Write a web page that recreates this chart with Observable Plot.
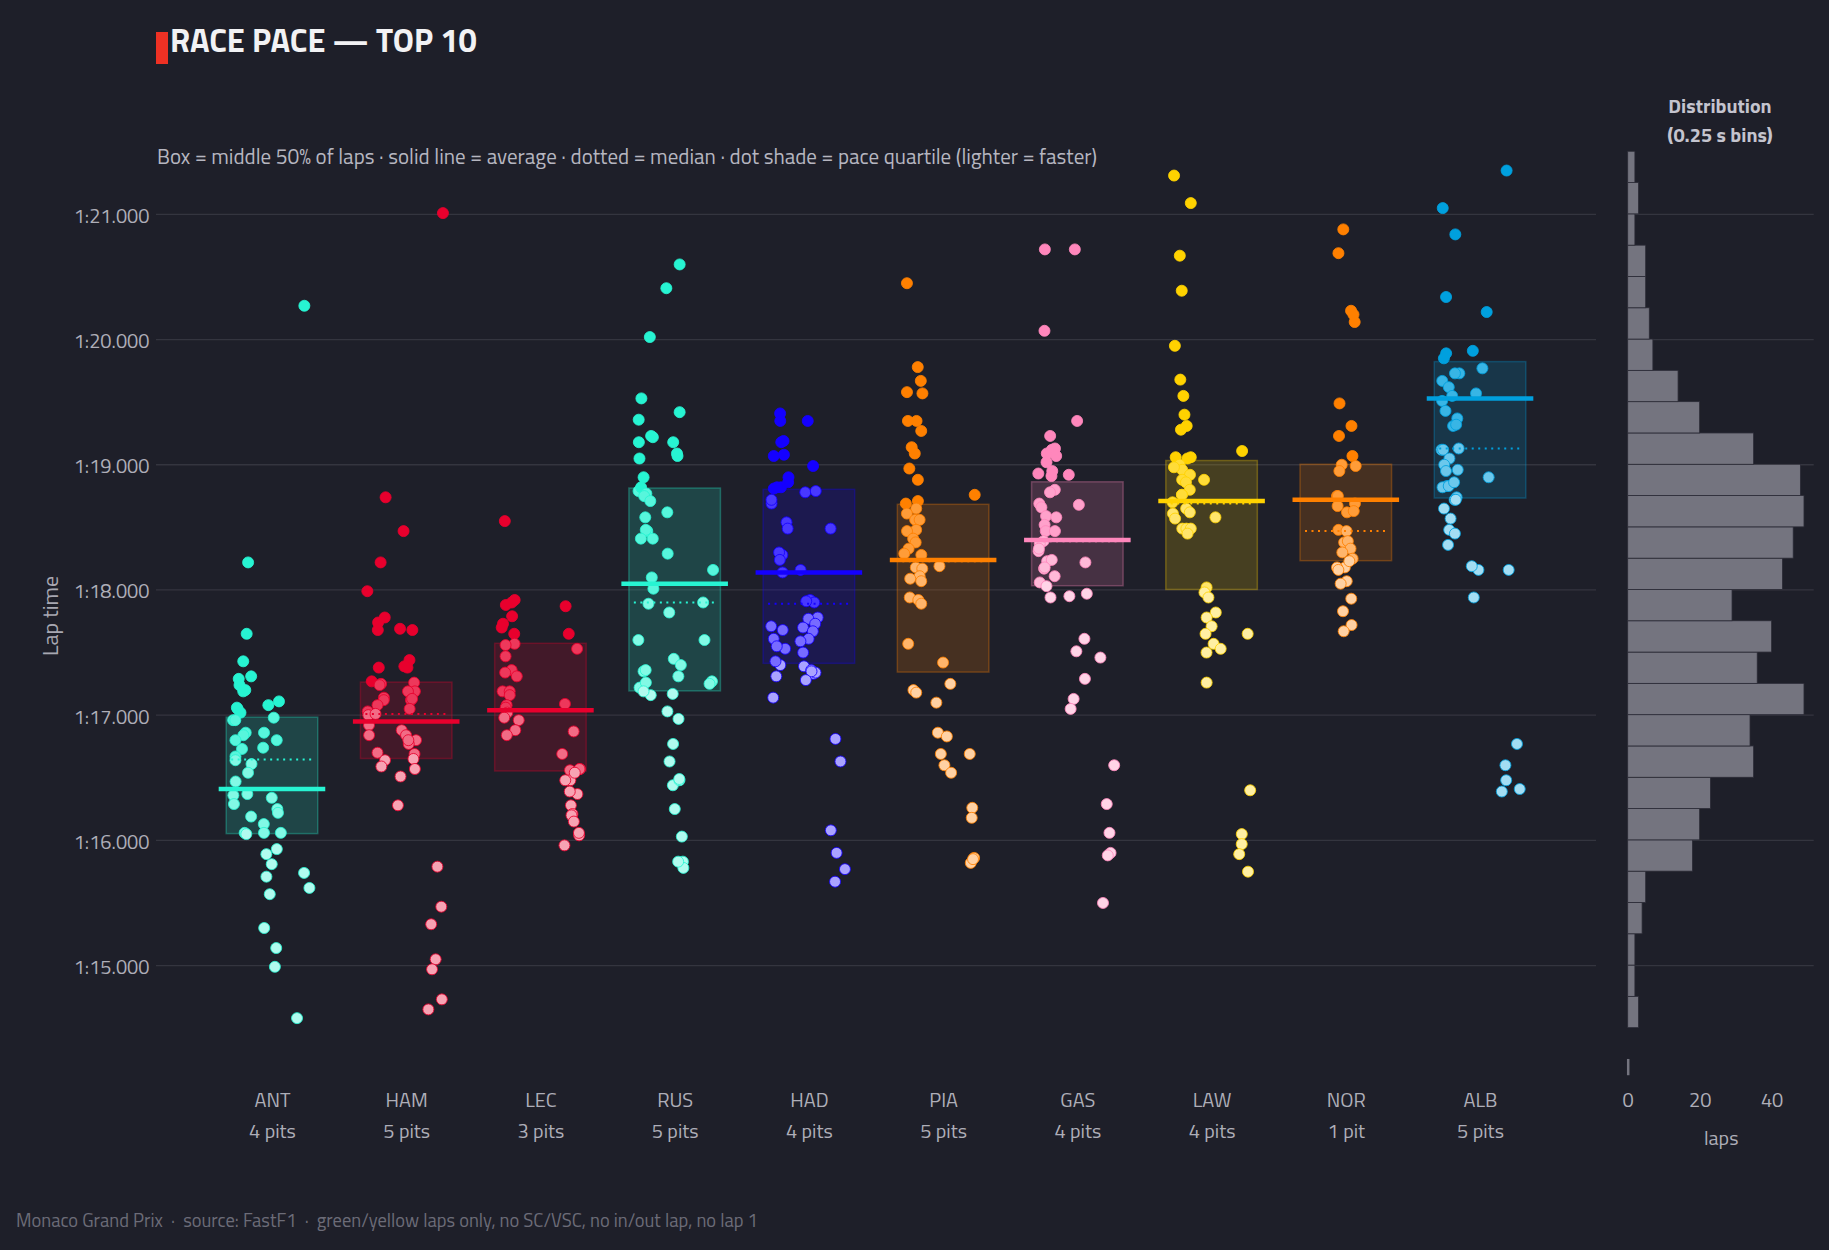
<!DOCTYPE html>
<html>
<head>
<meta charset="utf-8">
<script src="https://cdn.jsdelivr.net/npm/d3@7"></script>
<script src="https://cdn.jsdelivr.net/npm/@observablehq/plot@0.6"></script>
<style>
  html, body { margin: 0; padding: 0; background: #1e1f29; }
  #page { position: relative; width: 1829px; height: 1250px; background: #1e1f29; overflow: hidden;
          font-family: "Titillium Web", Roboto, "Noto Sans", sans-serif; }
  .abs { position: absolute; white-space: nowrap; line-height: 1; }
  #accent { position: absolute; left: 156px; top: 32px; width: 12px; height: 32px; background: #ee3124; }
  #title { left: 170px; top: 24px; font-size: 32.5px; font-weight: 700; color: #f2f2f4; }
  #subtitle { left: 157px; top: 146px; font-size: 21px; color: #b6b6c0; }
  #histTitle { left: 1620px; width: 200px; top: 91px; text-align: center; font-size: 20px; font-weight: 700;
               line-height: 29px; color: #c4c4ce; }
  #ylabel { left: 50px; top: 616px; font-size: 22px; color: #a8a8b2; transform: translate(-50%, -50%) rotate(-90deg); }
  #footer { left: 16px; top: 1211px; font-size: 18.5px; color: #6c6c78; }
  #main, #hist { position: absolute; top: 0; }
  #main { left: 0; }
  #hist { left: 1600px; }
</style>
</head>
<body>
<div id="page">
  <div id="accent"></div>
  <div id="title" class="abs">RACE PACE — TOP 10</div>
  <div id="subtitle" class="abs">Box = middle 50% of laps · solid line = average · dotted = median · dot shade = pace quartile (lighter = faster)</div>
  <div id="histTitle" class="abs">Distribution<br>(0.25 s bins)</div>
  <div id="ylabel" class="abs">Lap time</div>
  <div id="main"></div>
  <div id="hist"></div>
  <div id="footer" class="abs">Monaco Grand Prix &nbsp;·&nbsp; source: FastF1 &nbsp;·&nbsp; green/yellow laps only, no SC/VSC, no in/out lap, no lap 1</div>
</div>
<script>
// ---- drivers (finishing order, top 10) ----
const drivers = ["ANT", "HAM", "LEC", "RUS", "HAD", "PIA", "GAS", "LAW", "NOR", "ALB"];
const pitStops = [4, 5, 3, 5, 4, 5, 4, 4, 1, 5];
const teamColors = ["#27F4D2", "#E8002D", "#E8002D", "#27F4D2", "#1400FF",
                    "#FF8000", "#FF87BC", "#FFD200", "#FF8000", "#00A0DE"];

// ---- per-driver summary (seconds) ----
const lapQ1     = [76.05, 76.65, 76.55, 77.19, 77.41, 77.34, 78.03, 78.00, 78.23, 78.73];
const lapMedian = [76.645, 77.01, 77.05, 77.90, 77.89, 78.23, 78.39, 78.69, 78.47, 79.13];
const lapQ3     = [76.98, 77.26, 77.57, 78.81, 78.80, 78.68, 78.86, 79.03, 79.00, 79.82];
const lapMean   = [76.41, 76.95, 77.04, 78.05, 78.14, 78.24, 78.40, 78.71, 78.72, 79.53];

// ---- clean laps: [lap time in seconds, stint group 0/1/2] ----
const lapsANT = [[80.27,2],[78.22,0],[77.65,0],[77.43,0],[77.29,0],[77.24,0],[77.31,0],[77.20,0],[77.19,0],[77.06,0],[77.05,0],[77.02,0],[77.11,1],[77.08,1],[76.96,0],[76.96,0],[76.98,1],[76.86,0],[76.84,0],[76.86,1],[76.80,0],[76.80,1],[76.74,1],[76.73,0],[76.67,0],[76.64,0],[76.61,0],[76.54,0],[76.47,0],[76.36,0],[76.37,0],[76.34,1],[76.29,0],[76.25,1],[76.22,1],[76.19,0],[76.13,1],[76.06,0],[76.05,0],[76.06,1],[76.06,1],[75.93,1],[75.89,1],[75.81,1],[75.71,1],[75.57,1],[75.74,2],[75.62,2],[75.30,1],[75.14,1],[74.99,1],[74.58,2]];
const lapsHAM = [[81.01,2],[78.74,0],[78.47,1],[78.22,0],[77.99,0],[77.74,0],[77.78,0],[77.68,0],[77.69,1],[77.68,1],[77.38,0],[77.44,1],[77.38,1],[77.39,1],[77.26,1],[77.25,0],[77.27,0],[77.24,0],[77.19,1],[77.19,1],[77.14,0],[77.12,0],[77.12,1],[77.13,1],[77.08,0],[77.05,1],[77.03,0],[77.00,0],[77.01,0],[76.92,0],[76.84,0],[76.88,1],[76.84,1],[76.80,1],[76.77,1],[76.80,1],[76.70,0],[76.69,1],[76.64,0],[76.59,0],[76.65,1],[76.57,1],[76.51,1],[76.28,1],[75.79,2],[75.47,2],[75.33,2],[75.05,2],[74.97,2],[74.73,2],[74.65,2]];
const lapsLEC = [[78.55,0],[77.90,0],[77.92,0],[77.88,0],[77.87,2],[77.79,0],[77.73,0],[77.70,0],[77.65,0],[77.65,2],[77.57,0],[77.56,0],[77.53,2],[77.47,0],[77.36,0],[77.34,0],[77.31,0],[77.19,0],[77.19,0],[77.16,0],[77.08,0],[77.06,0],[77.09,2],[77.02,0],[76.98,0],[76.96,0],[76.88,0],[76.84,0],[76.87,2],[76.69,2],[76.57,2],[76.56,2],[76.57,2],[76.48,2],[76.48,2],[76.54,2],[76.37,2],[76.39,2],[76.28,2],[76.21,2],[76.20,2],[76.15,2],[76.04,2],[76.06,2],[75.96,2]];
const lapsRUS = [[80.60,1],[80.41,1],[80.02,0],[79.53,0],[79.36,0],[79.42,1],[79.23,0],[79.18,0],[79.22,0],[79.18,1],[79.05,0],[79.07,1],[79.09,1],[78.90,0],[78.79,0],[78.82,0],[78.77,0],[78.75,0],[78.71,0],[78.62,1],[78.58,0],[78.47,0],[78.48,0],[78.41,0],[78.41,0],[78.29,1],[78.16,2],[78.10,0],[78.01,0],[77.89,0],[77.90,2],[77.82,1],[77.60,0],[77.60,2],[77.45,1],[77.35,0],[77.36,0],[77.40,1],[77.31,1],[77.22,0],[77.26,0],[77.16,0],[77.19,0],[77.17,1],[77.27,2],[77.25,2],[77.03,1],[76.97,1],[76.77,1],[76.63,1],[76.44,1],[76.48,1],[76.49,1],[76.25,1],[76.03,1],[75.83,1],[75.78,1],[75.83,1]];
const lapsHAD = [[79.41,0],[79.35,0],[79.35,1],[79.19,0],[79.18,0],[79.07,0],[79.08,0],[78.99,1],[78.90,0],[78.86,0],[78.81,0],[78.82,0],[78.82,0],[78.78,1],[78.79,1],[78.69,0],[78.72,0],[78.54,0],[78.49,0],[78.49,2],[78.28,0],[78.30,0],[78.24,0],[78.14,0],[78.16,1],[77.92,1],[77.90,1],[77.91,1],[77.78,1],[77.77,1],[77.70,1],[77.73,1],[77.67,1],[77.71,0],[77.68,0],[77.61,0],[77.61,1],[77.59,1],[77.53,0],[77.55,0],[77.50,1],[77.40,0],[77.43,0],[77.39,1],[77.36,1],[77.33,1],[77.34,1],[77.35,1],[77.31,0],[77.28,1],[77.14,0],[76.81,2],[76.63,2],[76.08,2],[75.90,2],[75.77,2],[75.67,2]];
const lapsPIA = [[80.45,0],[79.78,0],[79.67,0],[79.57,0],[79.58,0],[79.35,0],[79.35,0],[79.27,0],[79.09,0],[79.14,0],[78.97,0],[78.88,0],[78.76,2],[78.71,0],[78.69,0],[78.65,0],[78.61,0],[78.56,0],[78.56,0],[78.48,0],[78.47,0],[78.41,0],[78.38,0],[78.33,0],[78.29,0],[78.28,0],[78.18,0],[78.17,0],[78.19,1],[78.11,0],[78.07,0],[78.09,0],[77.94,0],[77.92,0],[77.89,0],[77.57,0],[77.42,1],[77.25,1],[77.20,0],[77.18,0],[77.10,1],[76.86,1],[76.83,1],[76.69,1],[76.60,1],[76.69,2],[76.54,1],[76.26,2],[76.18,2],[75.82,2],[75.86,2],[75.85,2]];
const lapsGAS = [[80.72,0],[80.72,1],[80.07,0],[79.35,1],[79.23,0],[79.12,0],[79.09,0],[79.13,0],[79.07,0],[79.02,0],[78.91,0],[78.95,0],[78.93,0],[78.92,1],[78.80,0],[78.78,0],[78.69,0],[78.66,0],[78.68,1],[78.59,0],[78.58,0],[78.52,0],[78.47,0],[78.47,0],[78.39,0],[78.37,0],[78.31,0],[78.33,0],[78.23,0],[78.24,0],[78.22,1],[78.17,0],[78.18,0],[78.11,0],[78.06,0],[78.03,0],[77.94,0],[77.97,1],[77.95,1],[77.61,1],[77.51,1],[77.46,2],[77.29,1],[77.13,1],[77.05,1],[76.60,2],[76.29,2],[76.06,2],[75.90,2],[75.88,2],[75.50,2]];
const lapsLAW = [[81.31,0],[81.09,0],[80.67,0],[80.39,0],[79.95,0],[79.68,0],[79.55,0],[79.40,0],[79.31,0],[79.28,0],[79.11,2],[79.05,0],[79.06,0],[79.06,0],[79.00,0],[78.96,0],[78.98,0],[78.92,0],[78.88,0],[78.88,1],[78.86,0],[78.80,0],[78.76,0],[78.76,0],[78.70,0],[78.65,0],[78.62,0],[78.61,0],[78.58,1],[78.57,0],[78.49,0],[78.49,0],[78.49,0],[78.45,0],[78.02,1],[77.98,1],[77.94,1],[77.82,1],[77.78,1],[77.71,1],[77.65,1],[77.57,1],[77.53,1],[77.50,1],[77.65,2],[77.26,1],[76.40,2],[76.05,2],[75.97,2],[75.89,2],[75.75,2]];
const lapsNOR = [[80.88,1],[80.69,1],[80.23,1],[80.20,1],[80.14,1],[79.49,1],[79.31,1],[79.23,1],[79.07,1],[79.00,1],[78.95,1],[78.99,1],[78.75,1],[78.75,1],[78.69,1],[78.62,1],[78.63,1],[78.67,1],[78.48,1],[78.47,1],[78.38,1],[78.39,1],[78.33,1],[78.30,1],[78.25,1],[78.18,1],[78.18,1],[78.23,1],[78.16,1],[78.07,1],[78.05,1],[77.93,1],[77.83,1],[77.72,1],[77.67,1]];
const lapsALB = [[81.35,2],[81.05,0],[80.84,0],[80.34,0],[80.22,1],[79.89,0],[79.85,0],[79.91,1],[79.77,1],[79.73,0],[79.73,0],[79.67,0],[79.62,0],[79.55,0],[79.51,0],[79.57,1],[79.43,0],[79.37,0],[79.31,0],[79.32,0],[79.12,0],[79.13,0],[79.12,0],[79.05,0],[79.00,0],[78.96,0],[78.95,0],[78.83,0],[78.82,0],[78.83,0],[78.86,0],[78.74,0],[78.72,0],[78.72,0],[78.90,1],[78.65,0],[78.57,0],[78.48,0],[78.45,0],[78.36,0],[78.16,1],[78.19,1],[78.16,2],[77.94,1],[76.77,2],[76.60,2],[76.48,2],[76.41,2],[76.39,2]];
const lapsByDriver = [lapsANT, lapsHAM, lapsLEC, lapsRUS, lapsHAD, lapsPIA, lapsGAS, lapsLAW, lapsNOR, lapsALB];

// ---- distribution of all laps, 0.25 s bins starting at 1:14.50 ----
const histStart = 74.5;
const histBin = 0.25;
const histCounts = [3, 2, 2, 4, 5, 18, 20, 23, 35, 34, 49, 36, 40, 29, 43, 46, 49, 48, 35, 20, 14, 7, 6, 5, 5, 2, 3, 2];

// ---- axis ticks ----
const yTicks = [75, 76, 77, 78, 79, 80, 81];
const histTicks = [0, 20, 40];

// ---------------------------------------------------------------------------
const GRID = "#34353f";
const TEXT = "#aeaeb8";
const FONT = '"Titillium Web", Roboto, "Noto Sans", sans-serif';
const Y_DOMAIN = [74.05, 81.55];
const H = 1160, M_TOP = 145, M_BOTTOM = 76;

const lapFormat = s => {
  const m = Math.floor(s / 60);
  return `${m}:${(s - m * 60).toFixed(3).padStart(6, "0")}`;
};

// stable pseudo-jitter within a stint group, in [-1, 1]
const jitter = (i, j) => {
  const s = Math.sin((i + 1) * 374.761 + (j + 1) * 91.317) * 43758.5453;
  return (s - Math.floor(s) - 0.5) * 2;
};

const shadeMix = [0, 0.22, 0.42, 0.64]; // slowest quartile → fastest quartile

const stats = drivers.map((code, i) => ({
  i, code, pits: pitStops[i], color: teamColors[i],
  q1: lapQ1[i], q3: lapQ3[i], median: lapMedian[i], mean: lapMean[i]
}));

const dots = [];
lapsByDriver.forEach((laps, i) => {
  const s = stats[i];
  laps.forEach(([t, group], j) => {
    const q = t <= s.q1 ? 3 : t <= s.median ? 2 : t <= s.q3 ? 1 : 0;
    dots.push({
      x: i + (group - 1) * 0.225 + jitter(i, j) * 0.07,
      t,
      color: s.color,
      fill: d3.interpolateRgb(s.color, "#ffffff")(shadeMix[q])
    });
  });
});

const main = Plot.plot({
  width: 1610, height: H,
  marginLeft: 156, marginRight: 14, marginTop: M_TOP, marginBottom: M_BOTTOM,
  style: { background: "transparent", color: TEXT, fontFamily: FONT, fontSize: "20px", overflow: "visible" },
  x: { type: "linear", domain: [-0.864, 9.864], axis: null },
  y: { domain: Y_DOMAIN, axis: null },
  color: { type: "identity" },
  marks: [
    Plot.ruleY(yTicks, { stroke: GRID, strokeWidth: 1.3 }),
    Plot.axisY({ ticks: yTicks, tickFormat: lapFormat, tickSize: 0, tickPadding: 7, label: null, fontSize: 20, dy: 2, fill: TEXT }),
    Plot.rect(stats, {
      x1: d => d.i - 0.341, x2: d => d.i + 0.341, y1: "q1", y2: "q3",
      fill: "color", fillOpacity: 0.18, stroke: "color", strokeOpacity: 0.3, strokeWidth: 1.5
    }),
    Plot.dot(dots, { x: "x", y: "t", r: 5.5, fill: "fill", stroke: "color", strokeWidth: 1, strokeOpacity: 0.85 }),
    Plot.ruleY(stats, {
      x1: d => d.i - 0.304, x2: d => d.i + 0.304, y: "median",
      stroke: "color", strokeWidth: 2, strokeDasharray: "2,4.5"
    }),
    Plot.ruleY(stats, {
      x1: d => d.i - 0.397, x2: d => d.i + 0.397, y: "mean",
      stroke: "color", strokeWidth: 4.5
    }),
    Plot.text(stats, { x: "i", frameAnchor: "bottom", dy: 22, text: "code", fill: TEXT, fontSize: 20 }),
    Plot.text(stats, {
      x: "i", frameAnchor: "bottom", dy: 53, fill: TEXT, fontSize: 20,
      text: d => `${d.pits} pit${d.pits === 1 ? "" : "s"}`
    })
  ]
});
document.getElementById("main").appendChild(main);

const bins = histCounts.map((n, k) => ({
  y1: histStart + k * histBin, y2: histStart + (k + 1) * histBin, n
}));

const hist = Plot.plot({
  width: 229, height: H,
  marginLeft: 27.7, marginRight: 15.3, marginTop: M_TOP, marginBottom: M_BOTTOM,
  style: { background: "transparent", color: TEXT, fontFamily: FONT, fontSize: "20px", overflow: "visible" },
  x: { domain: [0, 51.7], axis: null },
  y: { domain: Y_DOMAIN, axis: null },
  marks: [
    Plot.ruleY(yTicks, { stroke: GRID, strokeWidth: 1.3 }),
    Plot.rectX(bins, { x1: 0, x2: "n", y1: "y1", y2: "y2", fill: "#74747f", stroke: "#2b2b36", strokeWidth: 0.8 }),
    Plot.ruleX([0], { y1: 74.12, y2: 74.25, stroke: "#74747f", strokeWidth: 2.5 }),
    Plot.text(histTicks, { x: d => d, frameAnchor: "bottom", dy: 22, text: d => String(d), fill: TEXT, fontSize: 20 }),
    Plot.text(["laps"], { frameAnchor: "bottom", dy: 60, text: d => d, fill: TEXT, fontSize: 20 })
  ]
});
document.getElementById("hist").appendChild(hist);
</script>
</body>
</html>
